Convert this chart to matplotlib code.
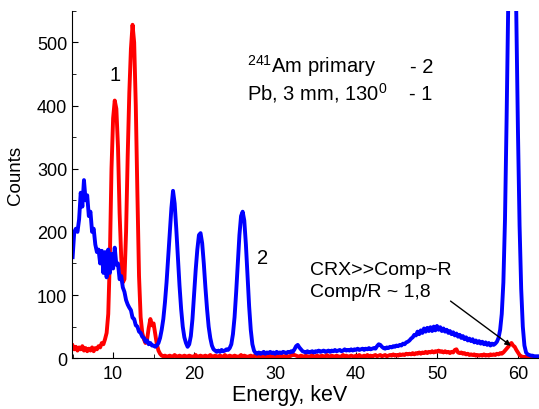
import numpy as np
import matplotlib.pyplot as plt
from matplotlib.ticker import MultipleLocator

plt.rcParams['font.family'] = ['Liberation Sans', 'DejaVu Sans']
plt.rcParams['mathtext.fontset'] = 'custom'
plt.rcParams['mathtext.rm'] = 'Liberation Sans'
plt.rcParams['mathtext.default'] = 'regular'

# energy calibration of the channels (keV)
e_start = 5.0
e_step = 0.2

# 241Am primary beam - curve 2
counts_am = [
    160, 200, 205, 200, 220, 262, 240, 282, 250, 258,   # 5.0
    225, 232, 200, 205, 180, 168, 172, 150, 170, 135,   # 7.0
    168, 128, 172, 135, 165, 142, 175, 148, 150, 125,   # 9.0
    130, 112, 105, 92, 85, 80, 76, 64, 62, 52,          # 11.0
    50, 42, 40, 34, 32, 26, 28, 22, 24, 20,             # 13.0
    20, 18, 20, 24, 32, 45, 62, 88, 120, 160,           # 15.0
    200, 238, 265, 245, 205, 160, 115, 78, 50, 33,      # 17.0
    24, 18, 22, 35, 62, 100, 140, 172, 195, 198,        # 19.0
    182, 150, 112, 78, 50, 32, 20, 14, 12, 10,          # 21.0
    12, 10, 13, 11, 12, 14, 13, 16, 22, 38,             # 23.0
    65, 105, 150, 195, 225, 232, 218, 180, 130, 82,     # 25.0
    45, 22, 12, 8, 7, 9, 7, 8, 10, 7,                   # 27.0
    9, 8, 10, 8, 9, 7, 10, 8, 9, 8,                     # 29.0
    10, 9, 8, 10, 9, 11, 10, 14, 19, 21,                # 31.0
    17, 14, 11, 10, 9, 11, 9, 10, 11, 9,                # 33.0
    11, 10, 12, 10, 11, 12, 10, 11, 12, 10,             # 35.0
    12, 11, 13, 11, 12, 13, 11, 12, 14, 12,             # 37.0
    13, 12, 14, 12, 14, 13, 15, 13, 14, 15,             # 39.0
    13, 15, 14, 16, 14, 15, 16, 15, 19, 22,             # 41.0
    21, 18, 16, 15, 17, 16, 18, 17, 19, 18,             # 43.0
    20, 19, 21, 20, 23, 22, 25, 26, 28, 31,             # 45.0
    33, 37, 36, 42, 38, 44, 40, 47, 42, 48,             # 47.0
    43, 49, 43, 50, 44, 51, 45, 49, 43, 47,             # 49.0
    42, 45, 40, 43, 38, 41, 36, 39, 34, 37,             # 51.0
    32, 35, 30, 33, 28, 31, 27, 30, 25, 28,             # 53.0
    24, 27, 23, 26, 22, 25, 21, 24, 20, 23,             # 55.0
    21, 23, 26, 32, 45, 70, 120, 220, 380, 560,         # 57.0
    760, 850, 830, 720, 540, 360, 210, 110, 50, 20,     # 59.0
    9, 6, 5, 4, 4, 3, 3, 3, 3,                          # 61.0
]

# Pb target, 3 mm, 130 deg - curve 1
counts_pb = [
    20, 14, 18, 12, 17, 14, 19, 12, 16, 11,             # 5.0
    15, 12, 17, 11, 16, 14, 19, 17, 24, 22,             # 7.0
    30, 40, 70, 160, 300, 380, 408, 395, 335, 230,      # 9.0
    160, 120, 125, 200, 320, 420, 490, 528, 500, 400,   # 11.0
    260, 130, 65, 40, 30, 24, 30, 48, 62, 52,           # 13.0
    55, 38, 22, 12, 7, 4, 3, 4, 2, 3,                   # 15.0
    4, 2, 3, 5, 3, 2, 4, 3, 2, 4,                       # 17.0
    3, 2, 4, 3, 2, 3, 5, 2, 3, 4,                       # 19.0
    2, 3, 4, 2, 3, 5, 3, 2, 4, 3,                       # 21.0
    2, 4, 3, 2, 5, 3, 2, 4, 3, 2,                       # 23.0
    4, 3, 2, 3, 5, 2, 4, 3, 2, 3,                       # 25.0
    4, 2, 3, 5, 3, 2, 4, 3, 2, 4,                       # 27.0
    3, 2, 4, 3, 2, 3, 5, 2, 3, 4,                       # 29.0
    2, 3, 4, 2, 3, 4, 6, 5, 4, 3,                       # 31.0
    2, 4, 3, 2, 4, 3, 2, 3, 5, 2,                       # 33.0
    3, 4, 2, 3, 4, 2, 3, 5, 3, 2,                       # 35.0
    4, 3, 2, 4, 3, 2, 3, 5, 3, 4,                       # 37.0
    2, 3, 4, 3, 2, 4, 3, 5, 3, 2,                       # 39.0
    4, 3, 5, 3, 4, 2, 4, 5, 3, 4,                       # 41.0
    5, 3, 4, 5, 3, 4, 5, 4, 6, 4,                       # 43.0
    5, 4, 6, 5, 6, 5, 7, 6, 7, 6,                       # 45.0
    8, 6, 8, 7, 9, 7, 9, 8, 10, 8,                      # 47.0
    10, 9, 11, 9, 11, 10, 12, 10, 11, 9,                # 49.0
    11, 9, 10, 8, 10, 9, 13, 14, 9, 8,                  # 51.0
    9, 7, 8, 6, 7, 5, 6, 5, 6, 4,                       # 53.0
    5, 4, 5, 4, 6, 4, 5, 4, 6, 5,                       # 55.0
    6, 5, 7, 6, 8, 7, 9, 12, 15, 18,                    # 57.0
    22, 24, 20, 18, 13, 9, 5, 3, 2, 2,                  # 59.0
    2, 1, 2, 1, 2, 1, 2, 1, 2,                          # 61.0
]

energy_am = e_start + e_step * np.arange(len(counts_am))
energy_pb = e_start + e_step * np.arange(len(counts_pb))

fig = plt.figure(figsize=(5.39, 4.10), dpi=100)
ax = fig.add_axes([0.134, 0.124, 0.866, 0.847])

ax.plot(energy_pb, counts_pb, color='#ff0000', lw=2.8)
ax.plot(energy_am, counts_am, color='#0000ff', lw=2.8)

ax.set_xlim(4.95, 62.6)
ax.set_ylim(0, 550)
ax.spines['top'].set_visible(False)
ax.spines['right'].set_visible(False)
ax.xaxis.set_major_locator(MultipleLocator(10))
ax.xaxis.set_minor_locator(MultipleLocator(5))
ax.yaxis.set_major_locator(MultipleLocator(100))
ax.yaxis.set_minor_locator(MultipleLocator(50))
ax.tick_params(which='major', direction='in', length=4, labelsize=13)
ax.tick_params(axis='x', which='major', pad=5)
ax.tick_params(which='minor', direction='in', length=3)

ax.set_xlabel('Energy, keV', fontsize=15.5)
ax.xaxis.set_label_coords(0.465, -0.075)
ax.set_ylabel('Counts', fontsize=13.5)
ax.yaxis.set_label_coords(-0.104, 0.53)

ax.text(10.3, 449, '1', ha='center', va='center', fontsize=14.5)
ax.text(28.4, 160, '2', ha='center', va='center', fontsize=14.5)
ax.text(26.5, 454, r'$^{241}$Am primary', ha='left', va='baseline', fontsize=14.5)
ax.text(46.7, 454, '- 2', ha='left', va='baseline', fontsize=14.5)
ax.text(26.5, 410, r'Pb, 3 mm, 130$^{0}$', ha='left', va='baseline', fontsize=14.5)
ax.text(46.5, 410, '- 1', ha='left', va='baseline', fontsize=14.5)
ax.text(34.3, 134, 'CRX>>Comp~R', ha='left', va='baseline', fontsize=14)
ax.text(34.3, 98, 'Comp/R ~ 1,8', ha='left', va='baseline', fontsize=14)
ax.annotate('', xy=(59.4, 17), xytext=(51.4, 93),
            arrowprops=dict(arrowstyle='-|>', color='black', lw=1,
                            mutation_scale=8))

fig.savefig('out.png', dpi=100)
